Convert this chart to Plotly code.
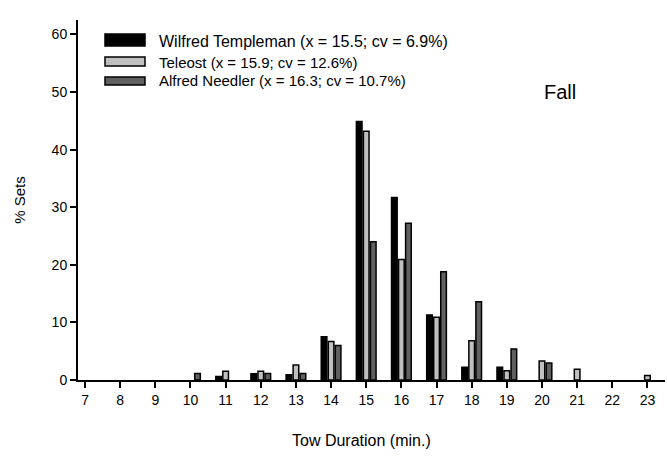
import plotly.graph_objects as go

durations = list(range(7, 24))
templeman = [None, None, None, None, 0.6, 1.1, 0.9, 7.5, 44.9, 31.7, 11.3, 2.2, 2.2, None, None, None, None]
teleost = [None, None, None, None, 1.5, 1.5, 2.6, 6.7, 43.2, 20.9, 10.9, 6.8, 1.6, 3.3, 1.85, None, 0.8]
needler = [None, None, None, 1.15, None, 1.15, 1.15, 6.0, 24.0, 27.2, 18.8, 13.6, 5.4, 2.95, None, None, None]

names = ["Wilfred Templeman (x = 15.5; cv = 6.9%)",
         "Teleost (x = 15.9; cv = 12.6%)",
         "Alfred Needler (x = 16.3; cv = 10.7%)"]
colors = ["#000000", "#c0c0c0", "#606060"]
series = [templeman, teleost, needler]

FONT = "Liberation Sans, Arial, sans-serif"

fig = go.Figure()
for name, vals, col in zip(names, series, colors):
    fig.add_trace(go.Bar(
        x=durations, y=vals, name=name,
        marker=dict(color=col, line=dict(color="#000000", width=1.5)),
        showlegend=False,
    ))

W, H = 667, 457
L, R, T, B = 78, 2, 20, 77
pw, ph = W - L - R, H - T - B

def px(x):
    return (x - L) / pw

def py(y):
    return (H - B - y) / ph

shapes = []
rows = [(34, 46), (57, 66), (77, 85)]
for (y0, y1), col in zip(rows, colors):
    shapes.append(dict(type="rect", xref="paper", yref="paper",
                       x0=px(105), x1=px(145), y0=py(y1), y1=py(y0),
                       fillcolor=col, line=dict(color="#000000", width=1.5)))

annotations = []
label_sizes = [16, 15, 15]
label_centers = [41, 62, 81]
for name, size, yc in zip(names, label_sizes, label_centers):
    annotations.append(dict(text=name, xref="paper", yref="paper",
                            x=px(157), y=py(yc), xanchor="left", yanchor="middle",
                            showarrow=False, font=dict(size=size, color="#000000", family=FONT)))
annotations.append(dict(text="Fall", xref="paper", yref="paper",
                        x=px(542), y=py(92), xanchor="left", yanchor="middle",
                        showarrow=False, font=dict(size=20, color="#000000", family=FONT)))
annotations.append(dict(text="Tow Duration (min.)", xref="paper", yref="paper",
                        x=px(361), y=py(440), xanchor="center", yanchor="middle",
                        showarrow=False, font=dict(size=16, color="#000000", family=FONT)))

fig.update_layout(
    width=W, height=H,
    margin=dict(l=L, r=R, t=T, b=B),
    paper_bgcolor="white", plot_bgcolor="white",
    barmode="group", bargap=0.4, bargroupgap=0.2,
    font=dict(family=FONT, size=13, color="#000000"),
    shapes=shapes, annotations=annotations,
    xaxis=dict(range=[6.8, 23.5], tickvals=durations, ticktext=[str(d) for d in durations],
               showline=True, linecolor="#000000", linewidth=2, showgrid=False, zeroline=False,
               ticks="outside", ticklen=6, tickwidth=2, tickcolor="#000000",
               tickfont=dict(size=14)),
    yaxis=dict(range=[0, 62.5], tickvals=[0, 10, 20, 30, 40, 50, 60],
               showline=True, linecolor="#000000", linewidth=2, showgrid=False, zeroline=False,
               ticks="outside", ticklen=6, tickwidth=2, tickcolor="#000000",
               tickfont=dict(size=14),
               title=dict(text="% Sets", font=dict(size=15), standoff=22)),
)

fig.write_html("out.html")
